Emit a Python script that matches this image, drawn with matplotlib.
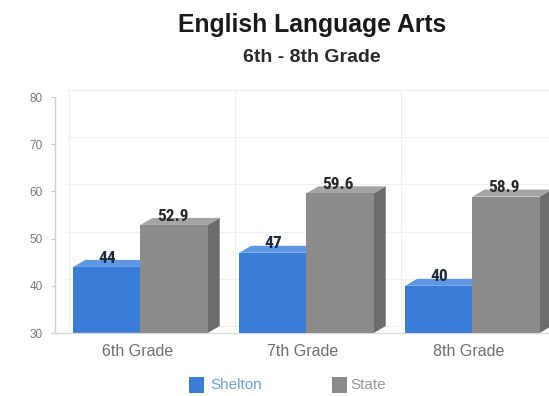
import matplotlib
matplotlib.use("Agg")
import matplotlib.pyplot as plt
from matplotlib import font_manager
from matplotlib.patches import Polygon, Rectangle
import numpy as np

# Data
categories = ["6th Grade", "7th Grade", "8th Grade"]
series_names = ["Shelton", "State"]
shelton = [44, 47, 40]
state = [52.9, 59.6, 58.9]
value_labels_shelton = ["44", "47", "40"]
value_labels_state = ["52.9", "59.6", "58.9"]
y_ticks = [30, 40, 50, 60, 70, 80]

# Fonts
installed = {f.name for f in font_manager.fontManager.ttflist}
base_font = "Liberation Sans" if "Liberation Sans" in installed else "DejaVu Sans"
narrow_font = base_font
for cand in ["Liberation Sans Narrow", "Roboto Condensed", "DejaVu Sans Condensed",
             "Open Sans Condensed", "Noto Sans Condensed"]:
    if cand in installed:
        narrow_font = cand
        break
plt.rcParams["font.family"] = [base_font, "DejaVu Sans"]

# Colours: front / top / side faces
blue_front, blue_top, blue_side = "#3a7dd9", "#5f97e4", "#2b62b0"
gray_front, gray_top, gray_side = "#8b8b8b", "#a4a4a4", "#6c6c6c"

W, H, DPI = 549, 396, 100
fig = plt.figure(figsize=(W / DPI, H / DPI), dpi=DPI)
fig.patch.set_facecolor("white")

ax_left_px, ax_right_px = 55, 549
ax_top_px, ax_bot_px = 97, 333
ax = fig.add_axes([ax_left_px / W, 1 - ax_bot_px / H,
                   (ax_right_px - ax_left_px) / W, (ax_bot_px - ax_top_px) / H])

ymin, ymax = 30, 80
xmin, xmax = -0.515, 2.461
ax.set_xlim(xmin, xmax)
ax.set_ylim(ymin, ymax)

# depth offset of the 3D faces, in data units
px_per_x = (ax_right_px - ax_left_px) / (xmax - xmin)
px_per_y = (ax_bot_px - ax_top_px) / (ymax - ymin)
dx = 12 / px_per_x
dy = 7 / px_per_y

bar_w = 0.405
x = np.arange(len(categories))

# faint back-wall grid
for gy in y_ticks:
    ax.plot([xmin + dx, xmax], [gy + dy, gy + dy], color="#f1f1f1", lw=0.8, zorder=0)
for gx in [-0.5, 0.5, 1.5]:
    ax.plot([gx + dx, gx + dx], [ymin + dy, ymax + dy], color="#eeeeee", lw=0.8, zorder=0,
            clip_on=False)
ax.plot([xmin + dx, xmax], [ymax + dy, ymax + dy], color="#efefef", lw=0.8, zorder=0, clip_on=False)


def bar3d(x0, val, front, top, side, z):
    x1 = x0 + bar_w
    ax.bar(x0, val - ymin, width=bar_w, bottom=ymin, align="edge",
           color=front, edgecolor="none", zorder=z + 0.2)
    ax.add_patch(Polygon([(x0, val), (x1, val), (x1 + dx, val + dy), (x0 + dx, val + dy)],
                         closed=True, facecolor=top, edgecolor="none", zorder=z + 0.1))
    ax.add_patch(Polygon([(x1, ymin), (x1 + dx, ymin + dy), (x1 + dx, val + dy), (x1, val)],
                         closed=True, facecolor=side, edgecolor="none", zorder=z))


label_kw = dict(ha="center", va="bottom", fontsize=12.5, fontweight="bold",
                fontstretch="condensed", family=[narrow_font, "DejaVu Sans"], zorder=20)
for i in range(len(categories)):
    xs = x[i] - bar_w
    xg = x[i]
    bar3d(xs, shelton[i], blue_front, blue_top, blue_side, 2 + i * 2)
    bar3d(xg, state[i], gray_front, gray_top, gray_side, 3 + i * 2)
    ax.text(xs + bar_w / 2, shelton[i] + dy * 0.2, value_labels_shelton[i],
            color="#1e2a3a", **label_kw)
    ax.text(xg + bar_w / 2 - 0.01, state[i] + dy * 0.2, value_labels_state[i],
            color="#2a2a2a", **label_kw)

# axes styling
for s in ["top", "right"]:
    ax.spines[s].set_visible(False)
ax.spines["left"].set_color("#d0d0d0")
ax.spines["bottom"].set_color("#dcdcdc")
ax.spines["left"].set_linewidth(1.0)
ax.spines["bottom"].set_linewidth(1.0)
ax.set_facecolor("none")

ax.set_yticks(y_ticks)
ax.set_yticklabels([str(t) for t in y_ticks])
ax.tick_params(axis="y", length=3, color="#c8c8c8", labelcolor="#7a7a7a",
               labelsize=8.5, pad=6)
ax.set_xticks(x - bar_w * 0.05)
ax.set_xticklabels(categories)
ax.tick_params(axis="x", length=0, labelcolor="#707070", labelsize=11.5, pad=8)

# titles
fig.text(312 / W, 1 - 25 / H, "English Language Arts", ha="center", va="center",
         fontsize=17.8, fontweight="bold", color="#1a1a1a")
fig.text(312 / W, 1 - 57 / H, "6th - 8th Grade", ha="center", va="center",
         fontsize=14, fontweight="bold", color="#2a2a2a")

# legend, drawn in figure pixel space
def px_box(x0, y0, w, h):
    return (x0 / W, 1 - (y0 + h) / H), w / W, h / H


legend_items = [(series_names[0], blue_front, "#6c9de3", 189, 210),
                (series_names[1], gray_front, "#9a9a9a", 332, 350)]
for name, face, tcolor, lx, tx in legend_items:
    xy, w, h = px_box(lx, 377, 15, 16)
    fig.add_artist(Rectangle(xy, w, h, transform=fig.transFigure,
                             facecolor=face, edgecolor="none"))
    fig.text(tx / W, 1 - 385 / H, name, ha="left", va="center",
             fontsize=11, color=tcolor)

fig.savefig("out.png", dpi=DPI, facecolor="white")
